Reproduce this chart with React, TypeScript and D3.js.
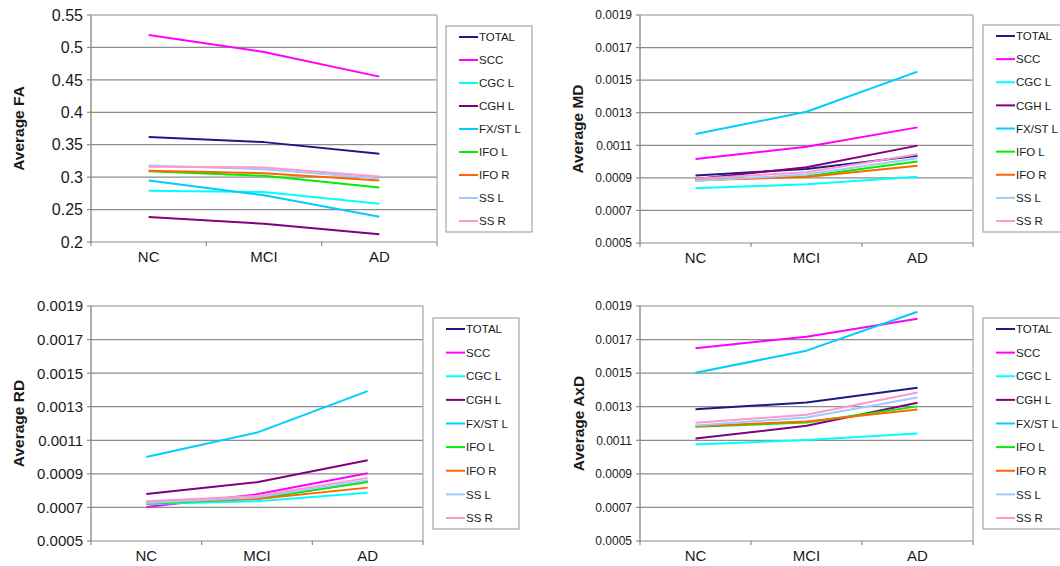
import React from "react";
import * as d3 from "d3";

// groups on the x axis
const categories = ["NC", "MCI", "AD"];

// tracts, in legend order
const tracts = ["TOTAL", "SCC", "CGC L", "CGH L", "FX/ST L", "IFO L", "IFO R", "SS L", "SS R"];
const tractColors = ["#1b1b86", "#ff00ff", "#00ffff", "#800080", "#00ccff", "#00ee00", "#ff6600", "#99ccff", "#ff99cc"];

// values per tract: [NC, MCI, AD]
const faValues = [
  [0.362, 0.354, 0.336],
  [0.519, 0.493, 0.455],
  [0.279, 0.277, 0.259],
  [0.2385, 0.228, 0.212],
  [0.295, 0.272, 0.239],
  [0.309, 0.302, 0.284],
  [0.310, 0.306, 0.295],
  [0.318, 0.312, 0.298],
  [0.316, 0.315, 0.301],
];

const mdValues = [
  [0.000915, 0.000955, 0.001036],
  [0.001016, 0.001091, 0.00121],
  [0.000836, 0.00086, 0.000907],
  [0.000893, 0.000965, 0.001098],
  [0.001169, 0.001306, 0.001552],
  [0.000885, 0.00091, 0.001],
  [0.000885, 0.000905, 0.000975],
  [0.00088, 0.00092, 0.00102],
  [0.000895, 0.000935, 0.001045],
];

const rdValues = [
  [0.000725, 0.000755, 0.000855],
  [0.000703, 0.000778, 0.000903],
  [0.00072, 0.000737, 0.000788],
  [0.00078, 0.00085, 0.000981],
  [0.001001, 0.001146, 0.001393],
  [0.000722, 0.000752, 0.000852],
  [0.00073, 0.00075, 0.000818],
  [0.000727, 0.00076, 0.000862],
  [0.000737, 0.000768, 0.000876],
];

const axdValues = [
  [0.001285, 0.001325, 0.001413],
  [0.001649, 0.001717, 0.001824],
  [0.001075, 0.001101, 0.001141],
  [0.00111, 0.001186, 0.001323],
  [0.001502, 0.001634, 0.001866],
  [0.00118, 0.001206, 0.001302],
  [0.001184, 0.001212, 0.001284],
  [0.001188, 0.001236, 0.001355],
  [0.001204, 0.001252, 0.001385],
];

const faTicks = [0.2, 0.25, 0.3, 0.35, 0.4, 0.45, 0.5, 0.55];
const diffTicks = [0.0005, 0.0007, 0.0009, 0.0011, 0.0013, 0.0015, 0.0017, 0.0019];

const FONT = "'Liberation Sans', Arial, Helvetica, sans-serif";
const TEXT = "#1a1a1a";
const GRID = "#8c8c8c";
const FRAME = "#a6a6a6";

type Box = { x0: number; x1: number; y0: number; y1: number };

type PanelProps = {
  title: string;
  values: number[][];
  ticks: number[];
  fmt: (v: number) => string;
  plot: Box;
  legend: Box;
  tickSize: number;
  titleX: number;
};

function Panel({ title, values, ticks, fmt, plot, legend, tickSize, titleX }: PanelProps) {
  const x = d3.scaleBand<string>().domain(categories).range([plot.x0, plot.x1]).padding(0);
  const y = d3.scaleLinear().domain([ticks[0], ticks[ticks.length - 1]]).range([plot.y1, plot.y0]);
  const cx = (c: string) => (x(c) as number) + x.bandwidth() / 2;
  const line = d3
    .line<number>()
    .x((_, i) => cx(categories[i]))
    .y((v) => y(v));

  const step = (legend.y1 - legend.y0 - 22) / (tracts.length - 1);
  const bounds = [plot.x0, ...categories.map((c) => (x(c) as number) + x.bandwidth())];

  return (
    <g fontFamily={FONT}>
      {ticks.map((t) => (
        <g key={t}>
          <line x1={plot.x0} x2={plot.x1} y1={y(t)} y2={y(t)} stroke={GRID} strokeWidth={1.2} />
          <line x1={plot.x0 - 4} x2={plot.x0} y1={y(t)} y2={y(t)} stroke={GRID} strokeWidth={1.2} />
          <text x={plot.x0 - 8} y={y(t)} dy="0.36em" textAnchor="end" fontSize={tickSize} fill={TEXT}>
            {fmt(t)}
          </text>
        </g>
      ))}
      <line x1={plot.x1} x2={plot.x1} y1={plot.y0} y2={plot.y1} stroke={FRAME} strokeWidth={1.2} />
      <line x1={plot.x0} x2={plot.x0} y1={plot.y0} y2={plot.y1 + 1} stroke={GRID} strokeWidth={1.4} />
      {bounds.map((b, i) => (
        <line key={i} x1={b} x2={b} y1={plot.y1} y2={plot.y1 + 4} stroke={GRID} strokeWidth={1.2} />
      ))}
      {categories.map((c) => (
        <text key={c} x={cx(c)} y={plot.y1 + 20} textAnchor="middle" fontSize={15} fill={TEXT}>
          {c}
        </text>
      ))}
      <text
        transform={`translate(${titleX},${(plot.y0 + plot.y1) / 2}) rotate(-90)`}
        textAnchor="middle"
        dy="0.36em"
        fontSize={15.5}
        fontWeight="bold"
        fill={TEXT}
      >
        {title}
      </text>
      {values.map((vals, i) => (
        <path
          key={tracts[i]}
          d={line(vals) as string}
          fill="none"
          stroke={tractColors[i]}
          strokeWidth={2}
          strokeLinejoin="round"
        />
      ))}
      <rect
        x={legend.x0}
        y={legend.y0}
        width={legend.x1 - legend.x0}
        height={legend.y1 - legend.y0}
        fill="#fff"
        stroke={FRAME}
        strokeWidth={1.2}
      />
      {tracts.map((name, i) => {
        const ly = legend.y0 + 11 + i * step;
        return (
          <g key={name}>
            <line x1={legend.x0 + 13} x2={legend.x0 + 32} y1={ly} y2={ly} stroke={tractColors[i]} strokeWidth={2} />
            <text x={legend.x0 + 33} y={ly} dy="0.36em" fontSize={11.5} fill={TEXT}>
              {name}
            </text>
          </g>
        );
      })}
    </g>
  );
}

const fmtFA = (v: number) => String(+v.toFixed(2));
const fmtDiff = (v: number) => v.toFixed(4);

export default function App() {
  return (
    <svg
      width={1060}
      height={566}
      style={{ position: "absolute", left: 0, top: 0, background: "#fff" }}
    >
      <rect width={1060} height={566} fill="#fff" />
      <Panel
        title="Average FA"
        values={faValues}
        ticks={faTicks}
        fmt={fmtFA}
        plot={{ x0: 91, x1: 437, y0: 15, y1: 242 }}
        legend={{ x0: 446, x1: 532, y0: 26, y1: 232 }}
        tickSize={16}
        titleX={18}
      />
      <Panel
        title="Average MD"
        values={mdValues}
        ticks={diffTicks}
        fmt={fmtDiff}
        plot={{ x0: 640, x1: 973, y0: 15, y1: 243 }}
        legend={{ x0: 983, x1: 1080, y0: 25, y1: 232 }}
        tickSize={12}
        titleX={577}
      />
      <Panel
        title="Average RD"
        values={rdValues}
        ticks={diffTicks}
        fmt={fmtDiff}
        plot={{ x0: 91, x1: 423, y0: 306, y1: 541 }}
        legend={{ x0: 433, x1: 519, y0: 318, y1: 529 }}
        tickSize={15}
        titleX={18}
      />
      <Panel
        title="Average AxD"
        values={axdValues}
        ticks={diffTicks}
        fmt={fmtDiff}
        plot={{ x0: 640, x1: 973, y0: 306, y1: 541 }}
        legend={{ x0: 983, x1: 1080, y0: 318, y1: 529 }}
        tickSize={12}
        titleX={578}
      />
    </svg>
  );
}
